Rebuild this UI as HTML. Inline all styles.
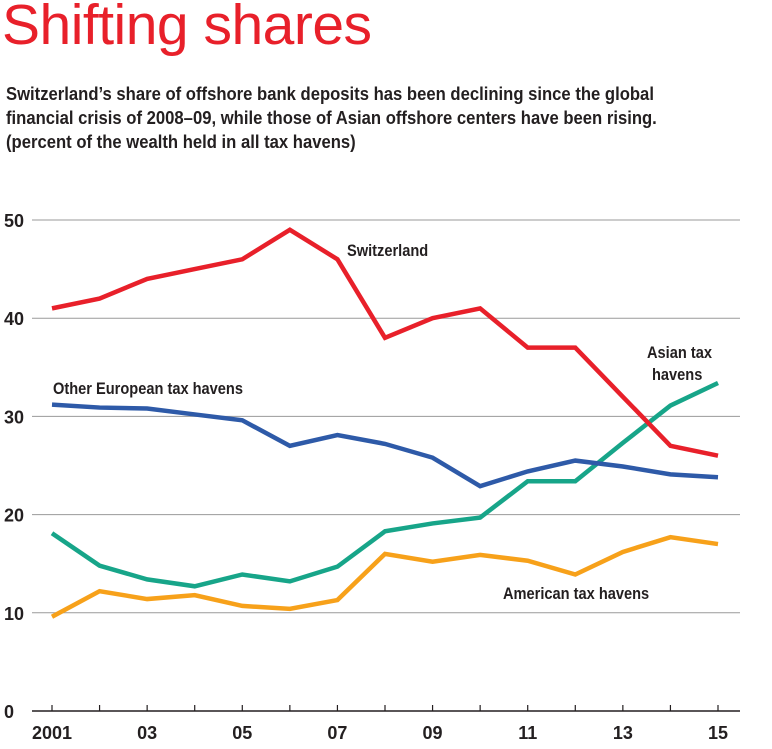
<!DOCTYPE html>
<html><head><meta charset="utf-8"><style>
body{margin:0;background:#fff;width:772px;height:749px;overflow:hidden;font-family:"Liberation Sans",sans-serif}
#title{position:absolute;left:2px;top:-8px;font-size:57px;color:#e8202a;letter-spacing:-0.5px;font-weight:normal}
#sub{position:absolute;left:6px;top:82px;font-size:18.5px;font-weight:bold;line-height:24px;color:#231f20;transform:scaleX(0.9);transform-origin:0 0;white-space:nowrap}
svg{position:absolute;left:0;top:0}
</style></head><body>
<div id="title">Shifting shares</div>
<div id="sub">Switzerland’s share of offshore bank deposits has been declining since the global<br>financial crisis of 2008–09, while those of Asian offshore centers have been rising.<br>(percent of the wealth held in all tax havens)</div>
<svg id="c" width="772" height="749"></svg>
<script>
const years=[2001,2002,2003,2004,2005,2006,2007,2008,2009,2010,2011,2012,2013,2014,2015];
const switzerland=[41,42,44,45,46,49,46,38,40,41,37,37,32,27,26];
const otherEurope=[31.2,30.9,30.8,30.2,29.6,27.0,28.1,27.2,25.8,22.9,24.4,25.5,24.9,24.1,23.8];
const asian=[18.1,14.8,13.4,12.7,13.9,13.2,14.7,18.3,19.1,19.7,23.4,23.4,27.3,31.1,33.4];
const american=[9.6,12.2,11.4,11.8,10.7,10.4,11.3,16.0,15.2,15.9,15.3,13.9,16.2,17.7,17.0];
const yTicks=[0,10,20,30,40,50];
const xLabels=["2001","03","05","07","09","11","13","15"];
const xLabelYears=[2001,2003,2005,2007,2009,2011,2013,2015];
const NS="http://www.w3.org/2000/svg";
const svg=document.getElementById('c');
const x=y=>52+(y-2001)*(718-52)/14;
const yS=v=>711-v*9.82;
function mk(t,a){const e=document.createElementNS(NS,t);for(const k in a)e.setAttribute(k,a[k]);svg.appendChild(e);return e;}
yTicks.forEach(v=>{
 if(v>0){const l=mk('line',{x1:32,x2:740,y1:yS(v),y2:yS(v),stroke:'#9a9a9a','stroke-width':1});
 
 }
 const t=mk('text',{x:4,y:yS(v)+7,'font-size':18,'font-weight':'bold',fill:'#231f20'});t.textContent=v;
 
 
});
const ax=mk('line',{x1:32,x2:740,y1:711,y2:711,stroke:'#231f20','stroke-width':1.5});


years.forEach(y=>{const t=mk('line',{x1:x(y),x2:x(y),y1:705,y2:711,stroke:'#231f20','stroke-width':1.2});
 
 });
xLabels.forEach((s,i)=>{const t=mk('text',{x:x(xLabelYears[i]),y:739,'font-size':18,'font-weight':'bold',fill:'#231f20','text-anchor':'middle'});t.textContent=s;
 
 });
function series(d,col,name){const p=mk('polyline',{points:d.map((v,i)=>x(years[i])+','+yS(v)).join(' '),fill:'none',stroke:col,'stroke-width':4.5,'stroke-linejoin':'miter'});
 
 }
series(american,'#f7a11a','line-american');
series(asian,'#17a589','line-asian');
series(otherEurope,'#2e5aa8','line-other-european');
series(switzerland,'#e8202a','line-switzerland');
function lab(s,xx,yy,name){const t=mk('text',{x:xx,y:yy,'font-size':17,'font-weight':'bold',fill:'#231f20',transform:`translate(${xx},0) scale(0.86,1) translate(${-xx},0)`});t.textContent=s;
 
 }
lab('Switzerland',347,256,'label-switzerland');
lab('Other European tax havens',53,394,'label-other-european');
lab('Asian tax',647,358,'label-asian-1');
lab('havens',652,380,'label-asian-2');
lab('American tax havens',503,599,'label-american');
</script>
</body></html>
